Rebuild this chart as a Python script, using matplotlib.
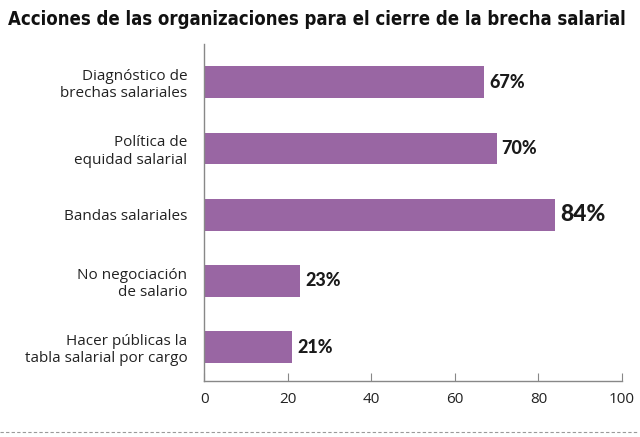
import matplotlib.pyplot as plt
from matplotlib.lines import Line2D

# Datos
acciones = ['Diagnóstico de\nbrechas salariales', 'Política de\nequidad salarial',
            'Bandas salariales', 'No negociación\nde salario',
            'Hacer públicas la\ntabla salarial por cargo']
porcentajes = [67, 70, 84, 23, 21]
ticks = [0, 20, 40, 60, 80, 100]

color_barra = '#9966a3'

fig = plt.figure(figsize=(6.4, 4.37), dpi=100)
ax = fig.add_axes([0.319, 0.128, 0.653, 0.771])

pos = list(range(len(acciones)))
ax.barh(pos, porcentajes, height=0.48, color=color_barra)

ax.set_xlim(0, 100)
ax.set_ylim(4.51, -0.574)
ax.set_xticks(ticks)
ax.set_yticks(pos)
ax.set_yticklabels(acciones, fontsize=11, family='Open Sans', color='#222222')
ax.tick_params(axis='y', length=0, pad=12)
ax.tick_params(axis='x', direction='in', length=6, color='#888888', pad=8,
               labelsize=11, labelcolor='#222222')
for lbl in ax.get_xticklabels():
    lbl.set_family('Open Sans')

for s in ['top', 'right']:
    ax.spines[s].set_visible(False)
for s in ['left', 'bottom']:
    ax.spines[s].set_color('#888888')
    ax.spines[s].set_linewidth(1.0)

# etiquetas de valor
for p, v in zip(pos, porcentajes):
    tam = 16.5 if v == max(porcentajes) else 13
    ax.text(v + 1.2, p, f'{v}%', va='center', ha='left', fontsize=tam,
            fontweight='black', family='Lato', color='#1a1a1a')

fig.text(0.012, 0.955, 'Acciones de las organizaciones para el cierre de la brecha salarial',
         fontsize=13.35, fontweight='bold', family='DejaVu Sans', fontstretch='condensed',
         color='#111111', va='center', ha='left')

# línea discontinua inferior
fig.add_artist(Line2D([0.0, 0.995], [0.012, 0.012], transform=fig.transFigure,
                      color='#999999', linestyle=(0, (3, 2)), linewidth=0.8))

fig.savefig('out.png', dpi=100)
